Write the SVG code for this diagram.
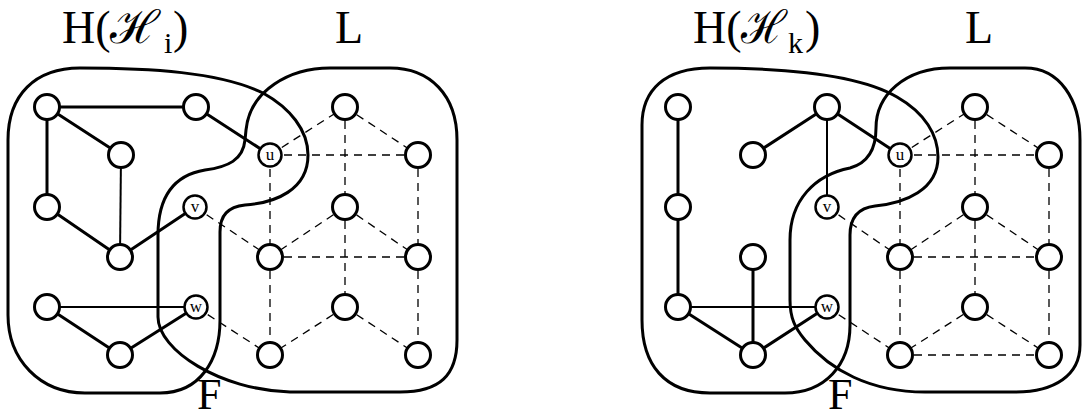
<svg xmlns="http://www.w3.org/2000/svg" width="1082" height="419" viewBox="0 0 1082 419">
<style>
.bg{fill:#fff}
.region{fill:none;stroke:#000;stroke-width:3}
.e{stroke:#000;stroke-width:3;stroke-linecap:round}
.et{stroke:#000;stroke-width:2}
.d{stroke:#000;stroke-width:1.3;stroke-dasharray:8 6}
.n{fill:#fff;stroke:#000;stroke-width:3}
.ln{fill:#fff;stroke:#000;stroke-width:2.5}
.lt{font-family:"Liberation Serif","DejaVu Serif",serif;font-size:17px;text-anchor:middle;fill:#000}
.t{font-family:"Liberation Serif","DejaVu Serif",serif;font-size:46px;fill:#000}
.f{font-family:"Liberation Serif","DejaVu Serif",serif;font-size:44px;fill:#000}
.s{font-family:"Liberation Serif","DejaVu Serif",serif;font-size:30px;fill:#000}
</style>
<rect class="bg" width="1082" height="419"/>

<g id="labels">
  <text class="t" x="62" y="43">H(</text>
  <text class="t" x="110" y="43" textLength="50" lengthAdjust="spacingAndGlyphs">ℋ</text>
  <text class="s" x="164" y="53">i</text>
  <text class="t" x="173" y="43">)</text>
  <text class="t" x="335" y="43">L</text>
  <text class="f" x="197" y="409">F</text>

  <text class="t" x="693" y="43">H(</text>
  <text class="t" x="741" y="43" textLength="46" lengthAdjust="spacingAndGlyphs">ℋ</text>
  <text class="s" x="788" y="53">k</text>
  <text class="t" x="805" y="43">)</text>
  <text class="t" x="965" y="43">L</text>
  <text class="f" x="828" y="409">F</text>
</g>

<g id="regions">
  <path id="H-left" class="region" d="M 8,140 C 8,95 35,68 80,68 C 150,68 220,72 263,93 C 290,108 308,130 308,155 C 308,190 275,203 245,205 C 228,207 220,215 220,232 L 220,320 C 220,360 200,393 160,393 L 85,393 C 40,393 8,360 8,315 Z"/>
  <path id="L-left" class="region" d="M 330,68 L 390,68 C 430,68 457,95 457,140 L 457,340 C 457,375 440,392 400,392 L 290,392 C 220,390 158,350 158,317 L 158,235 C 158,195 175,175 205,170 C 228,167 243,160 245,140 L 246,130 C 250,90 290,68 330,68 Z"/>
  <path id="H-right" class="region" d="M 642,125 C 642,90 665,68 710,68 C 790,68 860,75 897,97 C 925,113 938,135 938,157 C 938,190 905,203 875,206 C 858,208 850,218 850,235 L 850,325 C 850,365 825,393 785,393 L 710,393 C 665,393 642,365 642,320 Z"/>
  <path id="L-right" class="region" d="M 950,68 L 1025,68 C 1060,68 1080,100 1080,140 L 1080,345 C 1080,375 1055,392 1015,392 L 925,392 C 870,392 830,370 805,340 C 795,328 790,318 790,300 L 790,240 C 790,200 815,175 850,168 C 868,163 876,150 876,128 C 876,95 905,68 950,68 Z"/>
</g>

<g id="connectors">
  <line class="e" x1="47" y1="107" x2="196" y2="107"/>
  <line class="e" x1="47" y1="107" x2="121" y2="155"/>
  <line class="e" x1="47" y1="107" x2="47" y2="207"/>
  <line class="et" x1="121" y1="155" x2="120" y2="257"/>
  <line class="e" x1="196" y1="107" x2="270" y2="155"/>
  <line class="e" x1="47" y1="207" x2="120" y2="257"/>
  <line class="e" x1="120" y1="257" x2="195" y2="207"/>
  <line class="et" x1="47" y1="307" x2="196" y2="307"/>
  <line class="e" x1="47" y1="307" x2="120" y2="355"/>
  <line class="e" x1="120" y1="355" x2="196" y2="307"/>
  <line class="d" x1="270" y1="155" x2="345" y2="107"/>
  <line class="d" x1="345" y1="107" x2="418" y2="155"/>
  <line class="d" x1="270" y1="155" x2="418" y2="155"/>
  <line class="d" x1="345" y1="107" x2="345" y2="207"/>
  <line class="d" x1="270" y1="155" x2="270" y2="257"/>
  <line class="d" x1="418" y1="155" x2="418" y2="257"/>
  <line class="d" x1="345" y1="207" x2="270" y2="257"/>
  <line class="d" x1="345" y1="207" x2="418" y2="257"/>
  <line class="d" x1="270" y1="257" x2="418" y2="257"/>
  <line class="d" x1="345" y1="207" x2="345" y2="307"/>
  <line class="d" x1="270" y1="257" x2="270" y2="355"/>
  <line class="d" x1="418" y1="257" x2="418" y2="355"/>
  <line class="d" x1="345" y1="307" x2="270" y2="355"/>
  <line class="d" x1="345" y1="307" x2="418" y2="355"/>
  <line class="d" x1="195" y1="207" x2="270" y2="257"/>
  <line class="d" x1="196" y1="307" x2="270" y2="355"/>

  <line class="e" x1="678" y1="107" x2="678" y2="207"/>
  <line class="e" x1="678" y1="207" x2="678" y2="307"/>
  <line class="e" x1="753" y1="155" x2="827" y2="107"/>
  <line class="e" x1="827" y1="107" x2="900" y2="155"/>
  <line class="et" x1="827" y1="107" x2="827" y2="207"/>
  <line class="et" x1="678" y1="307" x2="827" y2="307"/>
  <line class="e" x1="678" y1="307" x2="753" y2="355"/>
  <line class="e" x1="753" y1="355" x2="827" y2="307"/>
  <line class="e" x1="753" y1="257" x2="753" y2="355"/>
  <line class="d" x1="900" y1="155" x2="975" y2="107"/>
  <line class="d" x1="975" y1="107" x2="1049" y2="155"/>
  <line class="d" x1="900" y1="155" x2="1049" y2="155"/>
  <line class="d" x1="975" y1="107" x2="975" y2="207"/>
  <line class="d" x1="900" y1="155" x2="900" y2="257"/>
  <line class="d" x1="1049" y1="155" x2="1049" y2="257"/>
  <line class="d" x1="975" y1="207" x2="900" y2="257"/>
  <line class="d" x1="975" y1="207" x2="1049" y2="257"/>
  <line class="d" x1="900" y1="257" x2="1049" y2="257"/>
  <line class="d" x1="975" y1="207" x2="975" y2="307"/>
  <line class="d" x1="900" y1="257" x2="900" y2="355"/>
  <line class="d" x1="1049" y1="257" x2="1049" y2="355"/>
  <line class="d" x1="975" y1="307" x2="900" y2="355"/>
  <line class="d" x1="975" y1="307" x2="1049" y2="355"/>
  <line class="d" x1="900" y1="355" x2="1049" y2="355"/>
  <line class="d" x1="827" y1="207" x2="900" y2="257"/>
  <line class="d" x1="827" y1="307" x2="900" y2="355"/>
</g>

<g id="l-a"><circle class="n" cx="47" cy="107" r="12.5"/></g>
<g id="l-b"><circle class="n" cx="196" cy="107" r="12.5"/></g>
<g id="l-c"><circle class="n" cx="121" cy="155" r="12.5"/></g>
<g id="l-d"><circle class="n" cx="47" cy="207" r="12.5"/></g>
<g id="l-e"><circle class="n" cx="120" cy="257" r="12.5"/></g>
<g id="l-f"><circle class="n" cx="47" cy="307" r="12.5"/></g>
<g id="l-g"><circle class="n" cx="120" cy="355" r="12.5"/></g>
<g id="l-u"><circle class="ln" cx="270" cy="155" r="11.5"/><text class="lt" x="270" y="160">u</text></g>
<g id="l-v"><circle class="ln" cx="195" cy="207" r="11.5"/><text class="lt" x="195" y="212">v</text></g>
<g id="l-w"><circle class="ln" cx="196" cy="307" r="11.5"/><text class="lt" x="196" y="312">w</text></g>
<g id="l-p1"><circle class="n" cx="345" cy="107" r="12.5"/></g>
<g id="l-p2"><circle class="n" cx="418" cy="155" r="12.5"/></g>
<g id="l-p3"><circle class="n" cx="345" cy="207" r="12.5"/></g>
<g id="l-p4"><circle class="n" cx="270" cy="257" r="12.5"/></g>
<g id="l-p5"><circle class="n" cx="418" cy="257" r="12.5"/></g>
<g id="l-p6"><circle class="n" cx="345" cy="307" r="12.5"/></g>
<g id="l-p7"><circle class="n" cx="270" cy="355" r="12.5"/></g>
<g id="l-p8"><circle class="n" cx="418" cy="355" r="12.5"/></g>

<g id="r-a"><circle class="n" cx="678" cy="107" r="12.5"/></g>
<g id="r-b"><circle class="n" cx="827" cy="107" r="12.5"/></g>
<g id="r-c"><circle class="n" cx="753" cy="155" r="12.5"/></g>
<g id="r-d"><circle class="n" cx="678" cy="207" r="12.5"/></g>
<g id="r-e"><circle class="n" cx="753" cy="257" r="12.5"/></g>
<g id="r-f"><circle class="n" cx="678" cy="307" r="12.5"/></g>
<g id="r-g"><circle class="n" cx="753" cy="355" r="12.5"/></g>
<g id="r-u"><circle class="ln" cx="900" cy="155" r="11.5"/><text class="lt" x="900" y="160">u</text></g>
<g id="r-v"><circle class="ln" cx="827" cy="207" r="11.5"/><text class="lt" x="827" y="212">v</text></g>
<g id="r-w"><circle class="ln" cx="827" cy="307" r="11.5"/><text class="lt" x="827" y="312">w</text></g>
<g id="r-p1"><circle class="n" cx="975" cy="107" r="12.5"/></g>
<g id="r-p2"><circle class="n" cx="1049" cy="155" r="12.5"/></g>
<g id="r-p3"><circle class="n" cx="975" cy="207" r="12.5"/></g>
<g id="r-p4"><circle class="n" cx="900" cy="257" r="12.5"/></g>
<g id="r-p5"><circle class="n" cx="1049" cy="257" r="12.5"/></g>
<g id="r-p6"><circle class="n" cx="975" cy="307" r="12.5"/></g>
<g id="r-p7"><circle class="n" cx="900" cy="355" r="12.5"/></g>
<g id="r-p8"><circle class="n" cx="1049" cy="355" r="12.5"/></g>
</svg>
